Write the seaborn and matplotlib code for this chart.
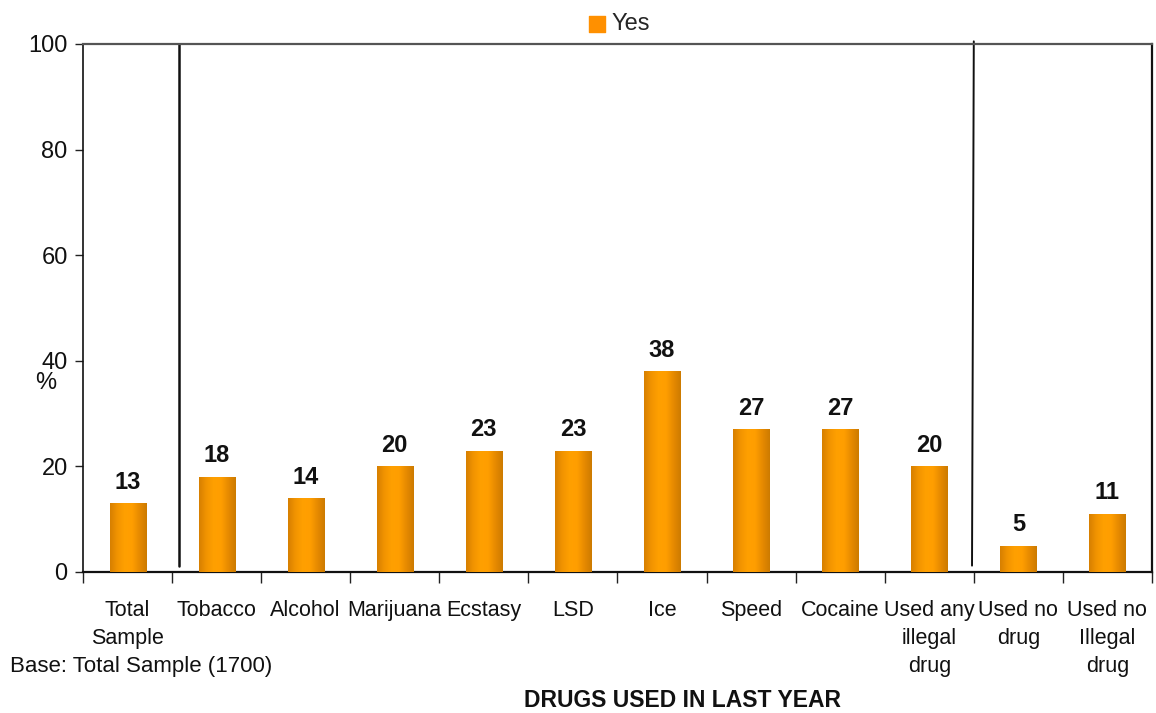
import numpy as np
import pandas as pd
import matplotlib
matplotlib.use("Agg")
import matplotlib.pyplot as plt
from matplotlib import font_manager
from matplotlib.colors import LinearSegmentedColormap
import seaborn as sns

categories = ["Total\nSample", "Tobacco", "Alcohol", "Marijuana", "Ecstasy", "LSD", "Ice",
              "Speed", "Cocaine", "Used any\nillegal\ndrug", "Used no\ndrug", "Used no\nIllegal\ndrug"]
yes_pct = [13, 18, 14, 20, 23, 23, 38, 27, 27, 20, 5, 11]
y_ticks = [0, 20, 40, 60, 80, 100]

sns.set_theme(style="white")
names = {f.name for f in font_manager.fontManager.ttflist}
base_font = "Liberation Sans" if "Liberation Sans" in names else "DejaVu Sans"
narrow_font = "Liberation Sans Narrow" if "Liberation Sans Narrow" in names else base_font
plt.rcParams["font.family"] = [base_font, "DejaVu Sans"]

df = pd.DataFrame({"category": categories, "pct": yes_pct})

fig = plt.figure(figsize=(11.56, 7.13), dpi=100)
ax = fig.add_axes([0.0718, 0.1978, 0.9247, 0.7405])

sns.barplot(data=df, x="category", y="pct", color="#FF9E00", width=0.405,
            saturation=1, ax=ax, zorder=3)

# horizontal shading across each bar: darker edges, bright centre
shade = LinearSegmentedColormap.from_list(
    "shade", ["#D67F00", "#F29400", "#FFA000", "#FF9E00", "#E68A00", "#CC7A00"])
grad = np.linspace(0, 1, 256).reshape(1, -1)
for p in ax.patches:
    x0, w, h = p.get_x(), p.get_width(), p.get_height()
    p.set_facecolor("none")
    p.set_edgecolor("none")
    im = ax.imshow(grad, cmap=shade, aspect="auto", extent=[x0, x0 + w, 0, h],
                   zorder=3, interpolation="bicubic")
    im.set_clip_path(p)
    ax.text(x0 + w / 2, h + 1.8, f"{h:g}", ha="center", va="bottom",
            fontsize=17, fontweight="bold", color="#111111", zorder=4)

n = len(categories)
ax.set_xlim(-0.5, n - 0.5)
ax.set_ylim(0, 100)
ax.set_yticks(y_ticks)
ax.tick_params(axis="y", labelsize=17, length=6, width=1, color="#222222",
               direction="out", left=True, pad=5, labelcolor="#111111")

ax.set_xticks(range(n))
ax.set_xticklabels(categories, fontsize=15.5, family=[narrow_font, "DejaVu Sans"],
                   linespacing=1.45, color="#111111", va="top")
ax.tick_params(axis="x", which="major", length=0, pad=20)
ax.set_xticks(np.arange(-0.5, n, 1), minor=True)
ax.tick_params(axis="x", which="minor", length=8, width=1, color="#222222",
               direction="out", bottom=True)
ax.set_xlabel("")
ax.set_ylabel("")

for side in ["left", "bottom", "right"]:
    ax.spines[side].set_color("#111111")
    ax.spines[side].set_linewidth(1.6)
ax.spines["top"].set_color("#555555")
ax.spines["top"].set_linewidth(1.6)
ax.spines["left"].set_linewidth(1.2)

# group dividers
ax.plot([0.58, 0.58], [1.2, 100], color="#111111", lw=1.8, zorder=2)
ax.plot([9.48, 9.50], [1.2, 100.5], color="#111111", lw=1.4, zorder=2, clip_on=False)

# legend
ax.scatter([], [], marker="s", s=120, color="#FF9000", label="Yes")
ax.legend(loc="lower center", bbox_to_anchor=(0.5, 0.99), frameon=False,
          fontsize=17, handletextpad=0.1, borderpad=0.1, handlelength=1.0)

fig.text(0.030, 0.463, "%", fontsize=17, color="#111111", ha="left", va="center")
fig.text(0.009, 0.065, "Base: Total Sample (1700)", fontsize=16,
         family=[narrow_font, "DejaVu Sans"], color="#111111", ha="left", va="center")
fig.text(0.590, 0.017, "DRUGS USED IN LAST YEAR", fontsize=16.5, fontweight="bold",
         family=[narrow_font, "DejaVu Sans"], color="#111111", ha="center", va="center")

fig.savefig("out.png", dpi=100)
